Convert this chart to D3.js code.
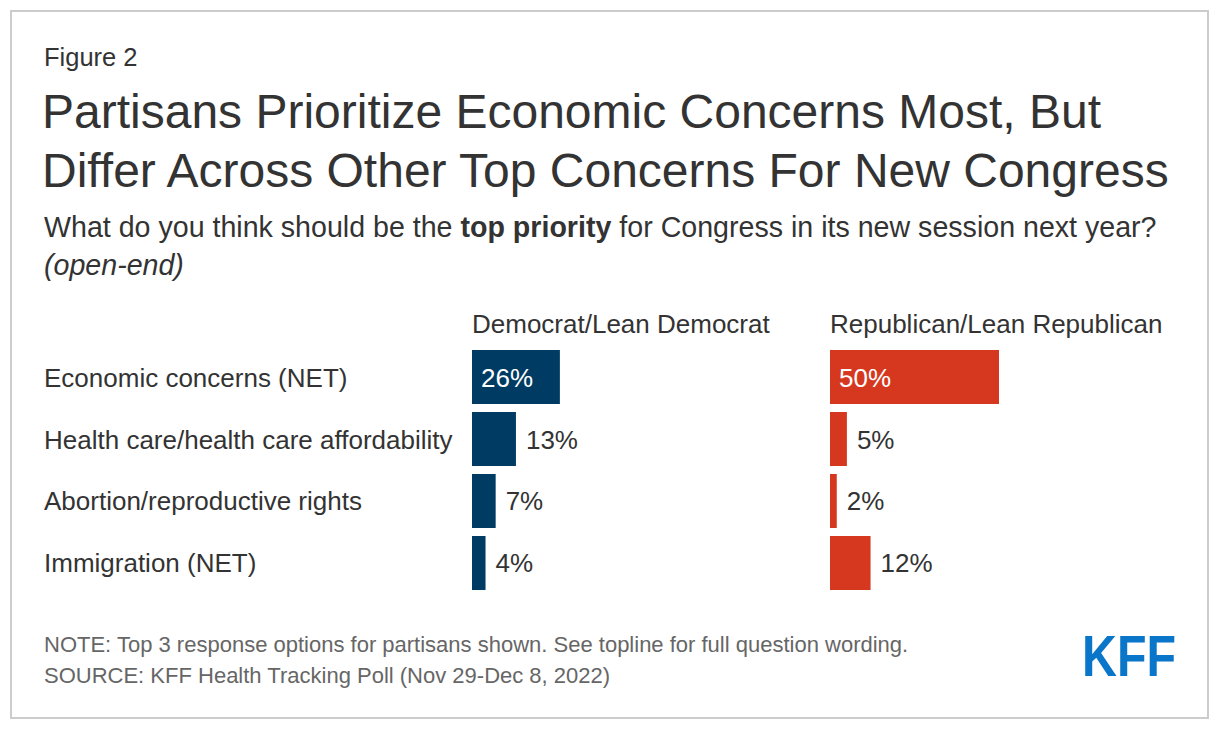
<!DOCTYPE html>
<html>
<head>
<meta charset="utf-8">
<script src="https://cdn.jsdelivr.net/npm/d3@7"></script>
<style>
  body { margin: 0; background: #fff; }
  text { font-family: "Liberation Sans", Arial, sans-serif; }
</style>
</head>
<body>
<svg id="chart" width="1220" height="730"></svg>
<script>
// data
var categories = ["Economic concerns (NET)", "Health care/health care affordability", "Abortion/reproductive rights", "Immigration (NET)"];
var groups = ["Democrat/Lean Democrat", "Republican/Lean Republican"];
var demValues = [26, 13, 7, 4];
var repValues = [50, 5, 2, 12];
var groupColors = ["#003b63", "#d6381f"];

var svg = d3.select("#chart");

// card border
svg.append("rect").attr("x", 11).attr("y", 11).attr("width", 1197).attr("height", 707)
  .style("fill", "#fff").style("stroke", "#cccccc").style("stroke-width", 2);

svg.append("text").attr("x", 44).attr("y", 66).text("Figure 2")
  .style("font-size", "25.5px").style("fill", "#333");

var title = ["Partisans Prioritize Economic Concerns Most, But", "Differ Across Other Top Concerns For New Congress"];
svg.selectAll(".title").data(title).enter().append("text")
  .attr("class", "title").attr("x", 42).attr("y", function (d, i) { return 128 + i * 59; })
  .text(function (d) { return d; })
  .style("font-size", "48px").style("fill", "#333");

var sub = svg.append("text").attr("x", 44).attr("y", 237)
  .style("font-size", "28.6px").style("fill", "#333");
sub.append("tspan").text("What do you think should be the ");
sub.append("tspan").text("top priority").style("font-weight", "bold");
sub.append("tspan").text(" for Congress in its new session next year?");
svg.append("text").attr("x", 44).attr("y", 275).text("(open-end)")
  .style("font-size", "28.6px").style("font-style", "italic").style("fill", "#333");

// bars
var y = d3.scaleBand().domain(categories).range([350, 590]).paddingInner(0.129).paddingOuter(0);
var x = d3.scaleLinear().domain([0, 50]).range([0, 169]);
var panelX = [472, 830];
var series = [demValues, repValues];

svg.selectAll(".cat").data(categories).enter().append("text")
  .attr("class", "cat").attr("x", 44)
  .attr("y", function (d) { return y(d) + y.bandwidth() / 2 + 9.5; })
  .text(function (d) { return d; })
  .style("font-size", "26px").style("fill", "#333");

series.forEach(function (vals, g) {
  var p = svg.append("g").attr("transform", "translate(" + panelX[g] + ",0)");
  p.append("text").attr("x", 0).attr("y", 333).text(groups[g])
    .style("font-size", "26px").style("fill", "#333");
  var rows = vals.map(function (v, i) { return { cat: categories[i], v: v }; });
  p.selectAll("rect").data(rows).enter().append("rect")
    .attr("x", 0).attr("y", function (d) { return y(d.cat); })
    .attr("width", function (d) { return x(d.v); })
    .attr("height", y.bandwidth())
    .style("fill", groupColors[g]);
  p.selectAll(".val").data(rows).enter().append("text")
    .attr("class", "val")
    .attr("x", function (d, i) { return i === 0 ? 9 : x(d.v) + 10; })
    .attr("y", function (d) { return y(d.cat) + y.bandwidth() / 2 + 9.5; })
    .text(function (d) { return d.v + "%"; })
    .style("font-size", "26px")
    .style("fill", function (d, i) { return i === 0 ? "#fff" : "#333"; });
});

// notes
svg.append("text").attr("x", 44).attr("y", 652)
  .text("NOTE: Top 3 response options for partisans shown. See topline for full question wording.")
  .style("font-size", "22px").style("fill", "#666");
svg.append("text").attr("x", 44).attr("y", 683)
  .text("SOURCE: KFF Health Tracking Poll (Nov 29-Dec 8, 2022)")
  .style("font-size", "22px").style("fill", "#666");

// logo
svg.append("text").attr("x", 1082).attr("y", 676).text("KFF")
  .attr("textLength", 94).attr("lengthAdjust", "spacingAndGlyphs")
  .style("font-size", "57px").style("font-weight", "bold").style("fill", "#0a76c9");
</script>
</body>
</html>
